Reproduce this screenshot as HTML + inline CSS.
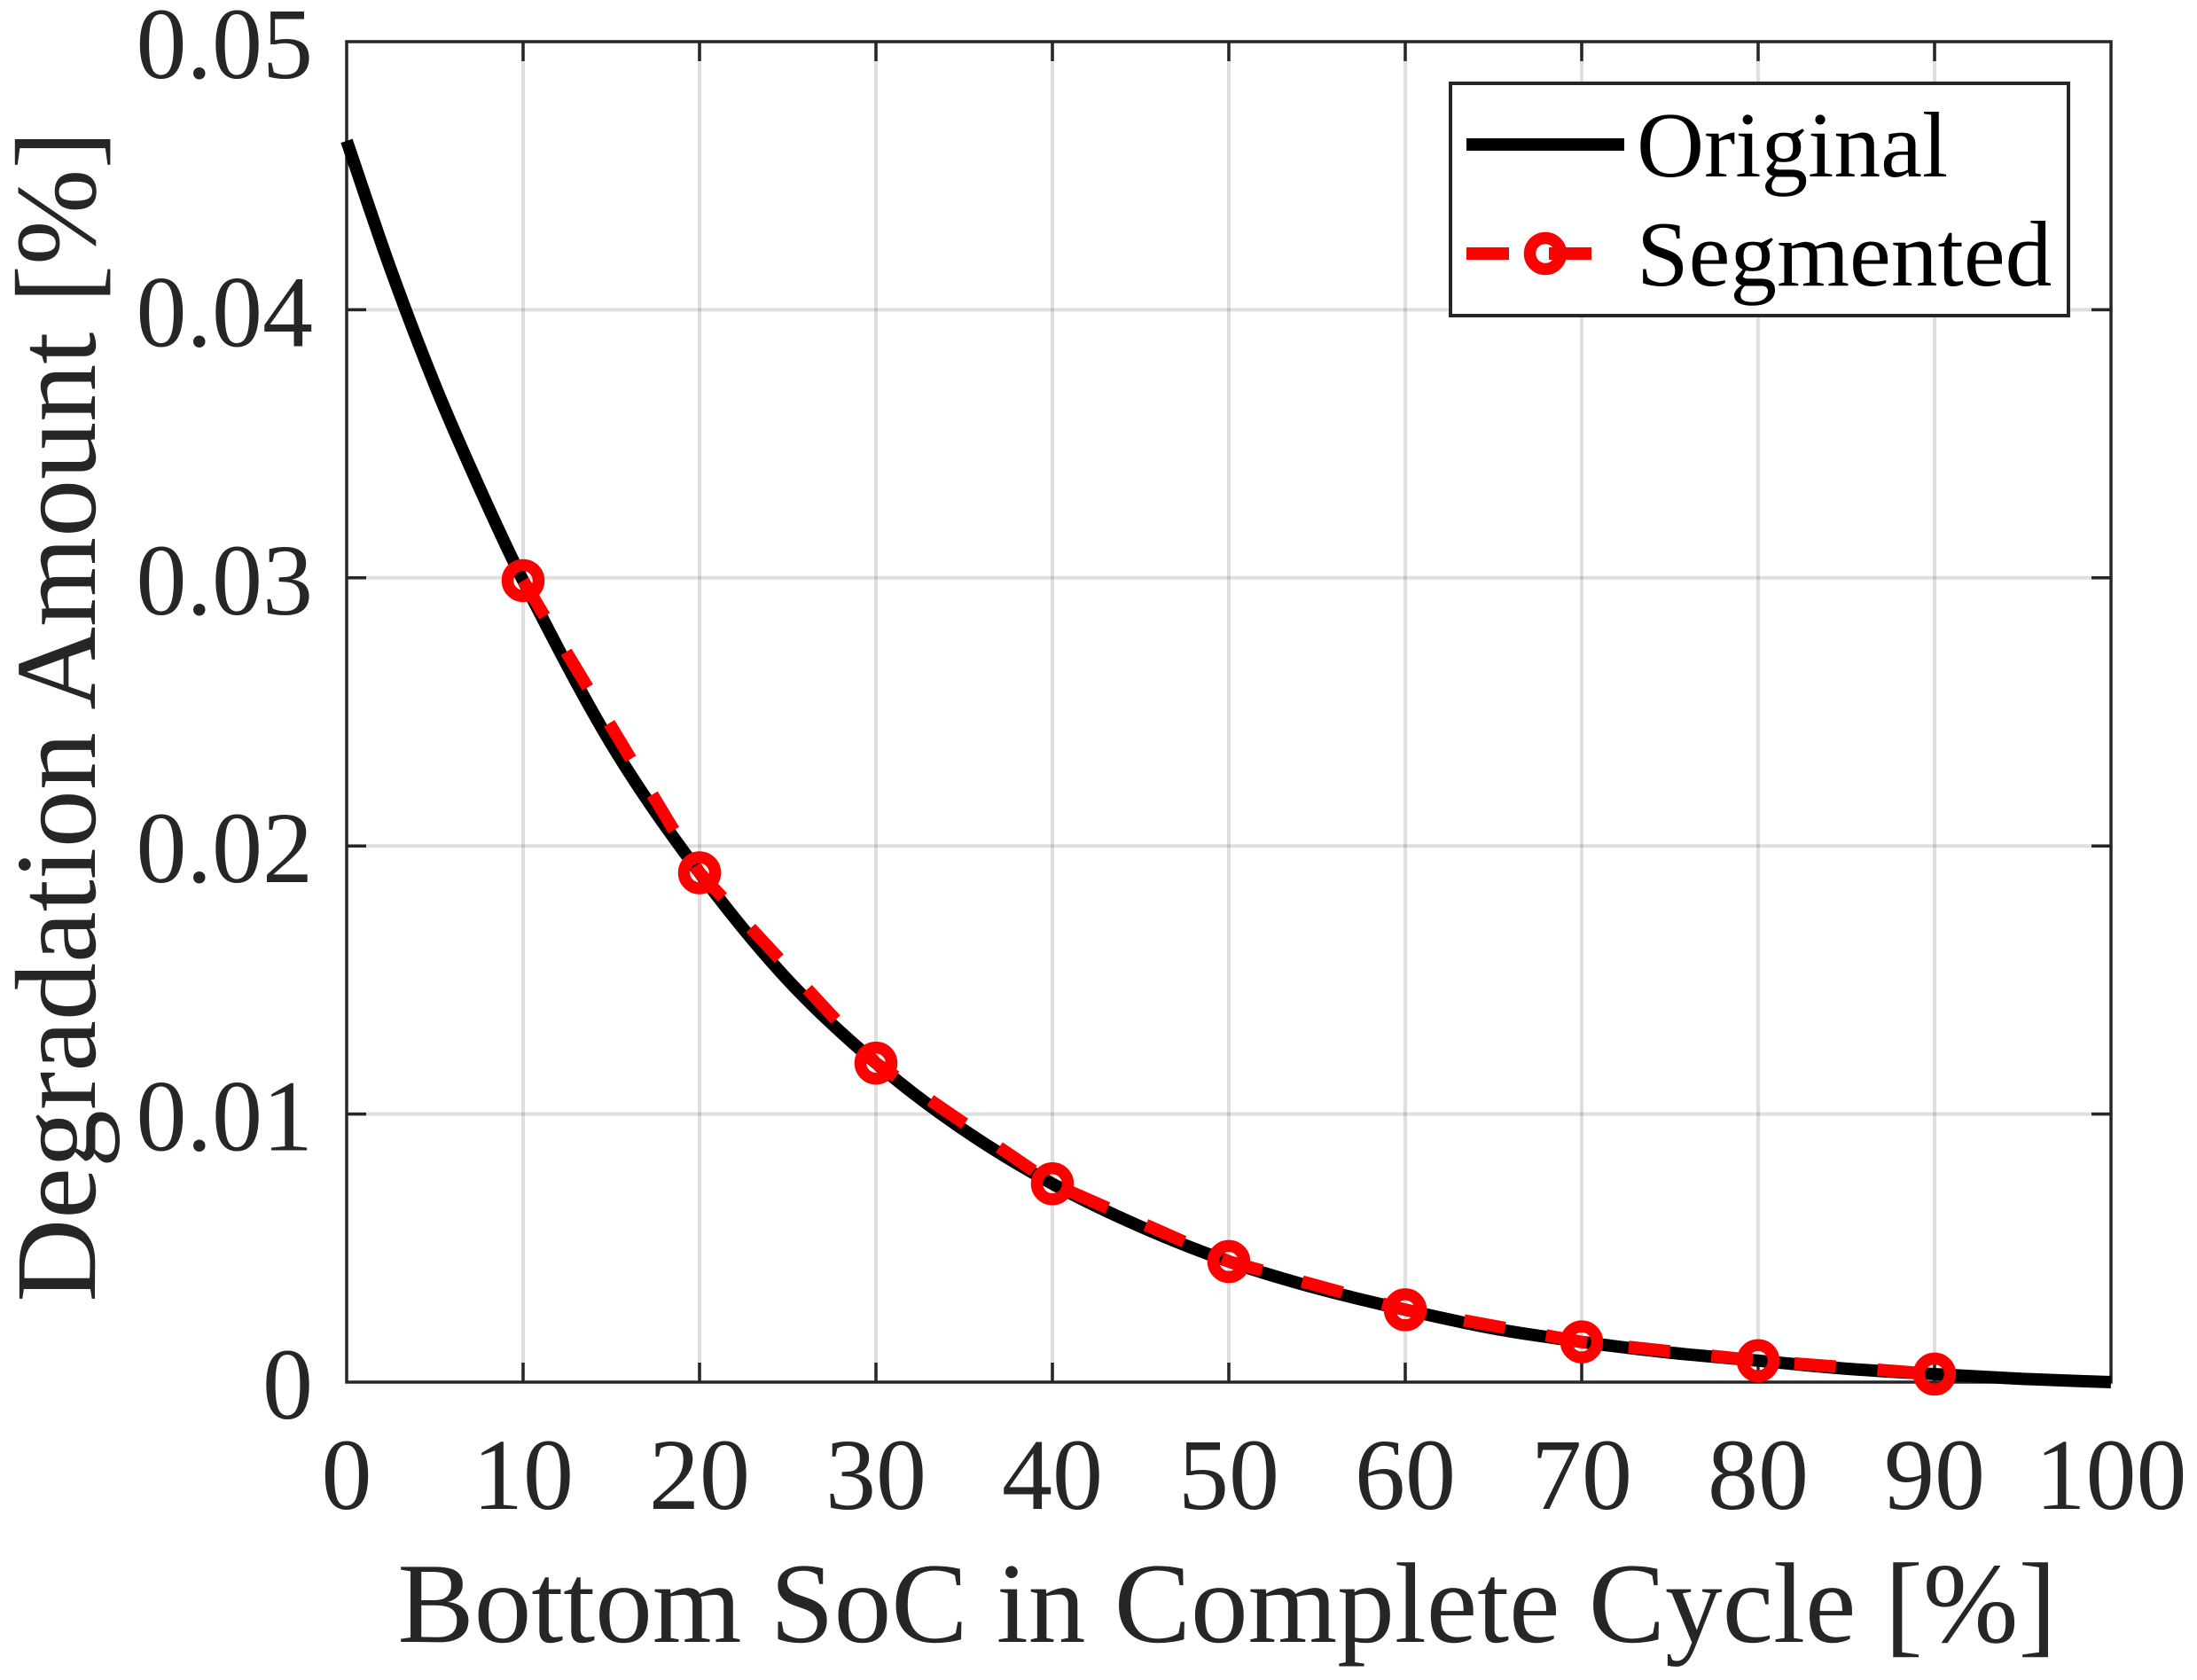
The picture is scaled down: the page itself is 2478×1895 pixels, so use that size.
<!DOCTYPE html>
<html lang="en">
<head>
<meta charset="utf-8">
<title>Degradation Amount vs Bottom SoC</title>
<style>
html,body{margin:0;padding:0;background:#fff;width:2478px;height:1895px;overflow:hidden}
svg{display:block;font-family:"Liberation Serif","Times New Roman",serif}
</style>
</head>
<body>
<svg id="chart" xmlns="http://www.w3.org/2000/svg" width="2478" height="1895" viewBox="0 0 2478 1895">
  <rect x="0" y="0" width="2478" height="1895" fill="#fff"/>
  <g id="grid"></g>
  <g id="axes"></g>
  <g id="series"></g>
  <text x="1384" y="1852" text-anchor="middle" font-size="129.3" fill="#262626">Bottom SoC in Complete Cycle [%]</text>
  <text transform="translate(107,808) rotate(-90)" text-anchor="middle" font-size="130" fill="#262626">Degradation Amount [%]</text>
  <g>
    <rect x="1636" y="94" width="697" height="262" fill="#fff" stroke="#262626" stroke-width="4"/>
    <line x1="1654" y1="163" x2="1832" y2="163" stroke="#000" stroke-width="14"/>
    <text x="1846" y="199" font-size="105.4" fill="#000">Original</text>
    <line x1="1654" y1="286" x2="1796" y2="286" stroke="#f00" stroke-width="14" stroke-dasharray="48 45"/>
    <circle cx="1743" cy="286" r="17.5" fill="none" stroke="#f00" stroke-width="13.5"/>
    <text x="1846" y="322" font-size="105.4" fill="#000">Segmented</text>
  </g>
</svg>
<script>
const xTicks = [0, 10, 20, 30, 40, 50, 60, 70, 80, 90, 100];
const yTicks = [0, 0.01, 0.02, 0.03, 0.04, 0.05];
const yTickLabels = ["0", "0.01", "0.02", "0.03", "0.04", "0.05"];
const originalX = [0, 2.5, 5, 7.5, 10, 15, 20, 25, 30, 35, 40, 45, 50, 55, 60, 65, 70, 75, 80, 85, 90, 95, 100];
const originalY = [0.0463, 0.0415, 0.0372, 0.0334, 0.0299, 0.0238, 0.019, 0.015, 0.0119, 0.0094, 0.0074, 0.0058, 0.0045, 0.0035, 0.0027, 0.002, 0.0015, 0.0011, 0.0008, 0.0005, 0.0003, 0.00012, 0];
const segmentedX = [10, 20, 30, 40, 50, 60, 70, 80, 90];
const segmentedY = [0.0299, 0.019, 0.0119, 0.0074, 0.0045, 0.0027, 0.0015, 0.0008, 0.0003];

const NS = 'http://www.w3.org/2000/svg';
const plotLeft = 391, plotRight = 2381, plotTop = 47, plotBottom = 1559;
const sx = v => plotLeft + (v - 0) / 100 * (plotRight - plotLeft);
const sy = v => plotBottom - (v - 0) / 0.05 * (plotBottom - plotTop);
const gridG = document.getElementById('grid');
const axesG = document.getElementById('axes');
const seriesG = document.getElementById('series');

function line(parent, x1, y1, x2, y2, color, width) {
  const el = document.createElementNS(NS, 'line');
  el.setAttribute('x1', x1);
  el.setAttribute('y1', y1);
  el.setAttribute('x2', x2);
  el.setAttribute('y2', y2);
  el.setAttribute('stroke', color);
  el.setAttribute('stroke-width', width);
  parent.appendChild(el);
  return el;
}
function label(parent, x, y, str, anchor) {
  const el = document.createElementNS(NS, 'text');
  el.setAttribute('x', x);
  el.setAttribute('y', y);
  el.setAttribute('text-anchor', anchor);
  el.setAttribute('font-size', '114');
  el.setAttribute('fill', '#262626');
  el.textContent = str;
  parent.appendChild(el);
  return el;
}

xTicks.forEach(t => {
  const x = sx(t);
  if (t > 0 && t < 100) {
    const g = line(gridG, x, plotTop, x, plotBottom, '#262626', 4);
    g.setAttribute('stroke-opacity', '0.15');
    
    
    const t1 = line(axesG, x, plotBottom, x, plotBottom - 22, '#262626', 3.5);
    
    
    const t2 = line(axesG, x, plotTop, x, plotTop + 22, '#262626', 3.5);
    
    
  }
  const l = label(axesG, x, 1702, String(t), 'middle');
  
  
});

yTicks.forEach((t, i) => {
  const y = sy(t);
  if (t > 0 && t < 0.05) {
    const g = line(gridG, plotLeft, y, plotRight, y, '#262626', 4);
    g.setAttribute('stroke-opacity', '0.15');
    
    
    const t1 = line(axesG, plotLeft, y, plotLeft + 22, y, '#262626', 3.5);
    
    
    const t2 = line(axesG, plotRight, y, plotRight - 22, y, '#262626', 3.5);
    
    
  }
  const l = label(axesG, 353, y + 41, yTickLabels[i], 'end');
  
  
});

const frame = document.createElementNS(NS, 'rect');


frame.setAttribute('x', plotLeft);
frame.setAttribute('y', plotTop);
frame.setAttribute('width', plotRight - plotLeft);
frame.setAttribute('height', plotBottom - plotTop);
frame.setAttribute('fill', 'none');
frame.setAttribute('stroke', '#262626');
frame.setAttribute('stroke-width', '3.5');
axesG.appendChild(frame);

const pts = originalX.map((v, i) => [sx(v), sy(originalY[i])]);
let d = 'M' + pts[0][0] + ' ' + pts[0][1];
for (let i = 0; i < pts.length - 1; i++) {
  const p0 = pts[Math.max(i - 1, 0)], p1 = pts[i], p2 = pts[i + 1], p3 = pts[Math.min(i + 2, pts.length - 1)];
  const h = p2[0] - p1[0];
  const m1 = (p2[1] - p0[1]) / (p2[0] - p0[0]);
  const m2 = (p3[1] - p1[1]) / (p3[0] - p1[0]);
  d += ' C' + (p1[0] + h / 3) + ' ' + (p1[1] + m1 * h / 3) + ' ' + (p2[0] - h / 3) + ' ' + (p2[1] - m2 * h / 3) + ' ' + p2[0] + ' ' + p2[1];
}
const originalPath = document.createElementNS(NS, 'path');


originalPath.setAttribute('d', d);
originalPath.setAttribute('fill', 'none');
originalPath.setAttribute('stroke', '#000');
originalPath.setAttribute('stroke-width', '14');
seriesG.appendChild(originalPath);

const segmentedLine = document.createElementNS(NS, 'polyline');


segmentedLine.setAttribute('points', segmentedX.map((v, i) => sx(v) + ',' + sy(segmentedY[i])).join(' '));
segmentedLine.setAttribute('fill', 'none');
segmentedLine.setAttribute('stroke', '#f00');
segmentedLine.setAttribute('stroke-width', '14');
segmentedLine.setAttribute('stroke-dasharray', '47 47');
seriesG.appendChild(segmentedLine);

segmentedX.forEach((v, i) => {
  const c = document.createElementNS(NS, 'circle');
  
  
  c.setAttribute('cx', sx(v));
  c.setAttribute('cy', sy(segmentedY[i]));
  c.setAttribute('r', '17.5');
  c.setAttribute('fill', 'none');
  c.setAttribute('stroke', '#f00');
  c.setAttribute('stroke-width', '13.5');
  seriesG.appendChild(c);
});
</script>
</body>
</html>
